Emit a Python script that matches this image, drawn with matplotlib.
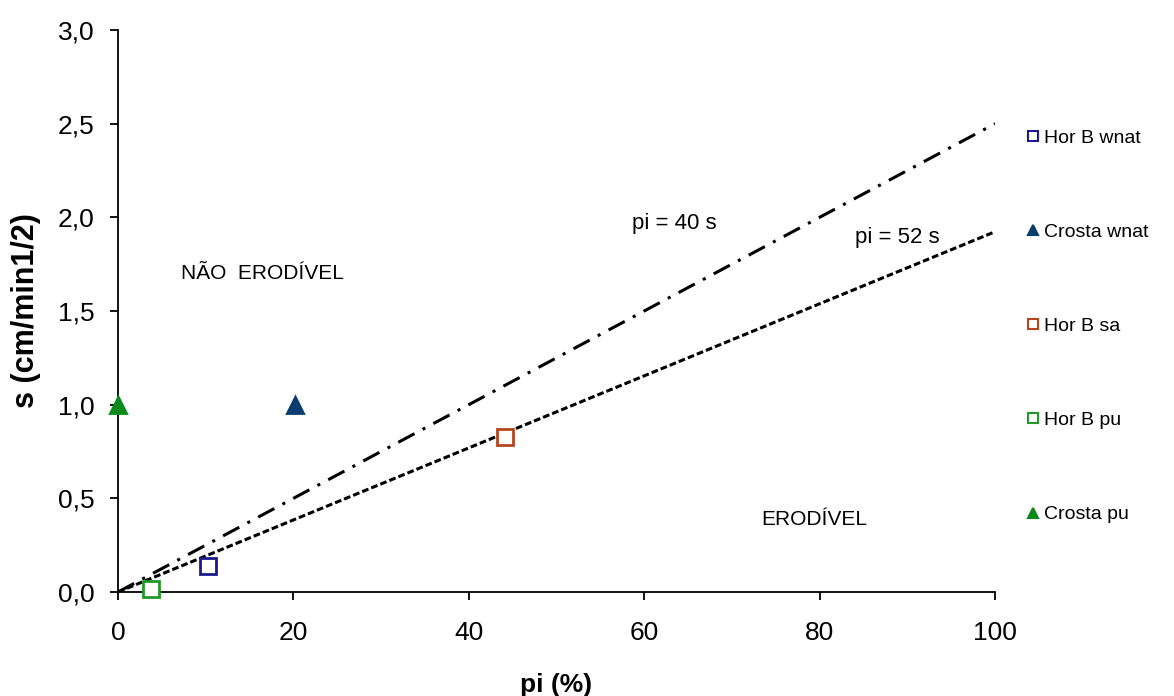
import matplotlib
matplotlib.use("Agg")
import matplotlib.pyplot as plt
import numpy as np
from matplotlib.ticker import FuncFormatter

plt.rcParams['font.family'] = ['Liberation Sans', 'DejaVu Sans']

series_names = ["Hor B wnat", "Crosta wnat", "Hor B sa", "Hor B pu", "Crosta pu"]
series_x = [10.3, 20.2, 44.1, 3.8, 0.0]
series_y = [0.14, 1.0, 0.83, 0.015, 1.0]
series_markers = ["s", "^", "s", "s", "^"]
series_colors = ["#1a1a8a", "#0a3d6e", "#b3461c", "#22992a", "#0a8a1a"]
series_filled = [False, True, False, False, True]

line_pi = [0, 100]
line_coef = [40, 52]
line_labels = ["pi = 40 s", "pi = 52 s"]

fig = plt.figure(figsize=(11.74, 6.96), dpi=100)
ax = fig.add_axes([118/1174, 1-592/696, (995-118)/1174, (592-30)/696])

x = np.array(line_pi, dtype=float)
ax.plot(x, x/line_coef[0], color='black', lw=2.2, linestyle=(0, (6, 3, 1, 3)), zorder=2)
ax.plot(x, x/line_coef[1], color='black', lw=2.2, linestyle=(0, (2.2, 1.0)), zorder=2)

for name, xx, yy, m, c, f in zip(series_names, series_x, series_y, series_markers, series_colors, series_filled):
    ax.plot([xx], [yy], linestyle='none', marker=m, markersize=11,
            markerfacecolor=c if f else 'white', markeredgecolor=c,
            markeredgewidth=2.0, label=name, clip_on=False, zorder=3)

ax.set_xlim(0, 100)
ax.set_ylim(0, 3.0)
ax.set_xticks(np.arange(0, 101, 20))
ax.set_yticks(np.arange(0, 3.01, 0.5))
ax.yaxis.set_major_formatter(FuncFormatter(lambda v, p: f"{v:.1f}".replace('.', ',')))
for s in ['top', 'right']:
    ax.spines[s].set_visible(False)
ax.spines['left'].set_linewidth(1.3)
ax.spines['bottom'].set_linewidth(1.3)
ax.tick_params(axis='both', labelsize=19, length=6, width=1.3, direction='out')
ax.tick_params(axis='x', pad=15)
ax.tick_params(axis='y', pad=11)

ax.set_xlabel("pi (%)", fontsize=19, fontweight='bold', labelpad=20)
ax.set_ylabel("s (cm/min1/2)", fontsize=22, fontweight='bold', labelpad=12)

ax.text(58.6, 1.965, line_labels[0], fontsize=16, ha='left', va='center')
ax.text(84.0, 1.89, line_labels[1], fontsize=16, ha='left', va='center')
ax.text(7.2, 1.70, "NÃO  ERODÍVEL", fontsize=15, ha='left', va='center')
ax.text(73.3, 0.385, "ERODÍVEL", fontsize=15, ha='left', va='center')

leg_handles = []
for m, c, f in zip(series_markers, series_colors, series_filled):
    leg_handles.append(plt.Line2D([], [], linestyle='none', marker=m, markersize=7,
                                  markerfacecolor=c if f else 'white', markeredgecolor=c,
                                  markeredgewidth=1.5))
fig.legend(leg_handles, series_names, loc='upper left', bbox_to_anchor=(1027/1174, 1-129/696),
           frameon=False, fontsize=14, labelspacing=3.94, handlelength=0.6,
           handletextpad=0.3, borderpad=0, borderaxespad=0)

fig.savefig("out.png", dpi=100)
